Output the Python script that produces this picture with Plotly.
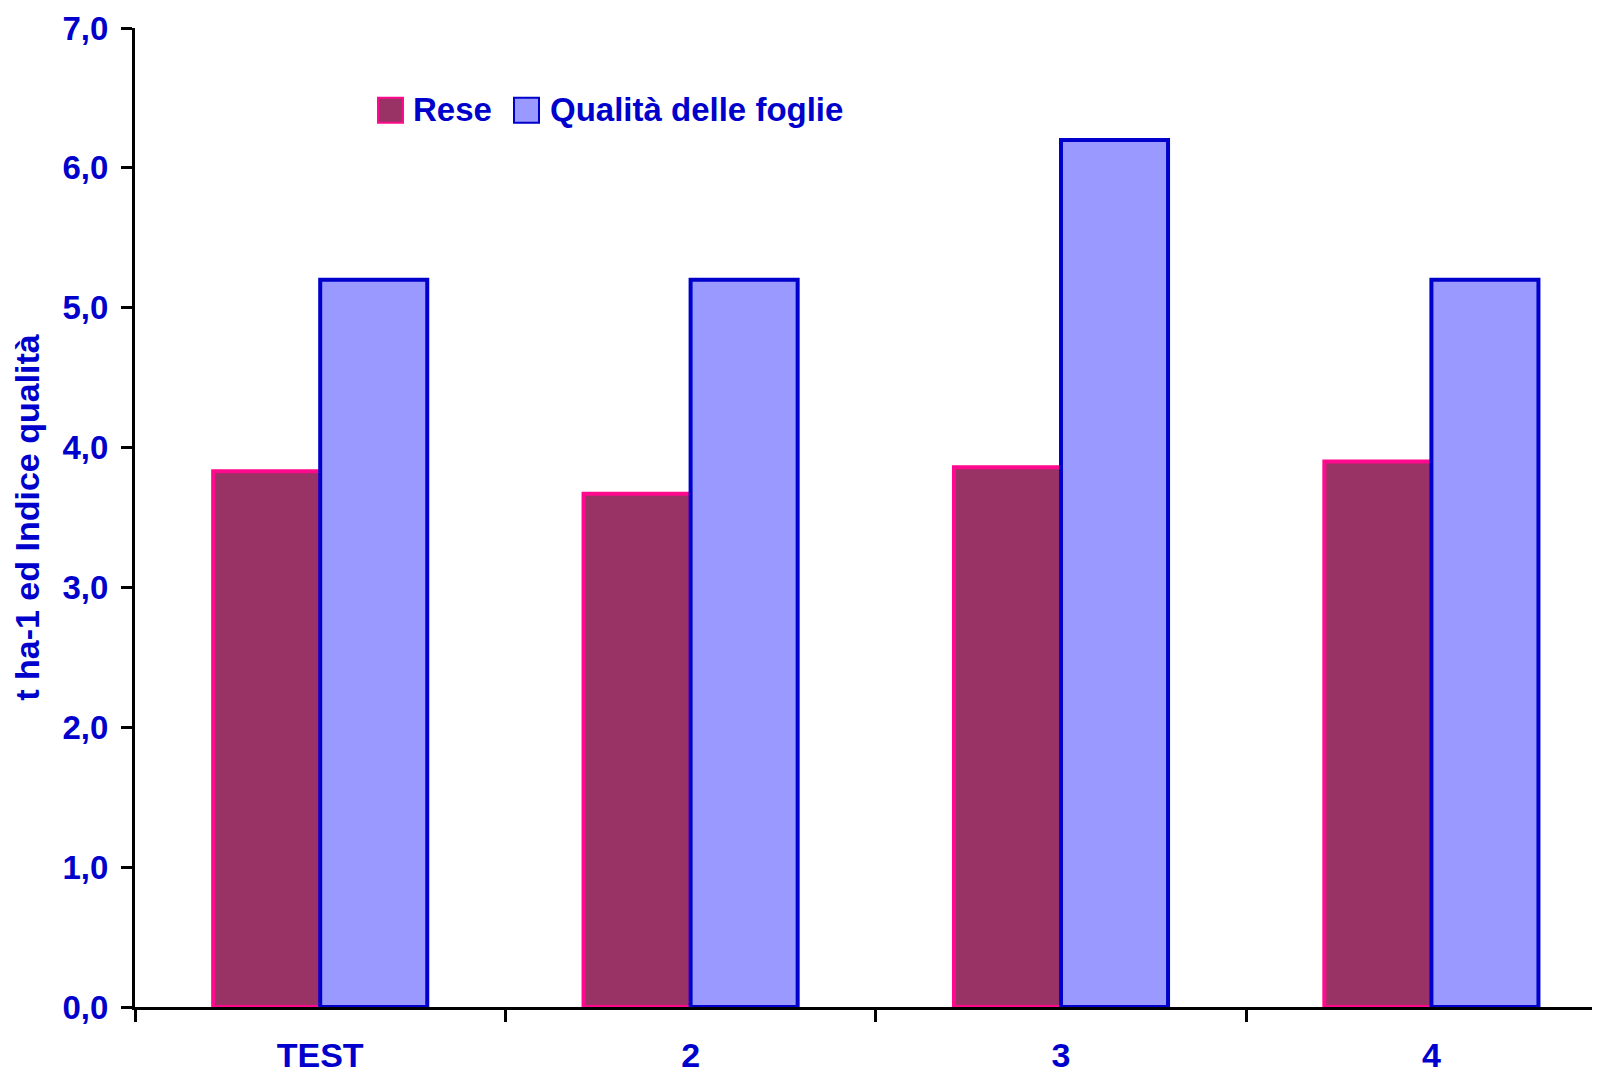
import plotly.graph_objects as go

categories = ["TEST", "2", "3", "4"]
rese = [3.83, 3.67, 3.86, 3.90]
qualita = [5.2, 5.2, 6.2, 5.2]
y_ticks = [0, 1, 2, 3, 4, 5, 6, 7]
series_names = ["Rese", "Qualità delle foglie"]

# page body has an 8px default margin -> figure is 8px smaller than the viewport
W, H = 1592, 1066
L, R, T, B = 127, 0, 20, 64
PW, PH = W - L - R, H - T - B
BLUE = "#0000CC"
FAM = "Liberation Sans, Arial, sans-serif"
FONT = dict(family=FAM, color=BLUE, size=33, weight="bold")

fills = ["#993366", "#9999FF"]
lines = ["#FF0A8C", "#0000CC"]

fig = go.Figure()
for name, vals, fc, lc in zip(series_names, [rese, qualita], fills, lines):
    fig.add_trace(go.Bar(name=name, x=categories, y=vals, showlegend=False,
                         marker=dict(color=fc, line=dict(color=lc, width=4))))

cat_w = 370.4
xmax = -0.5 + PW / cat_w


def px(x):
    return (x - L) / PW


def py(y):
    return (T + PH - y) / PH


# manual legend (larger swatches than plotly's native legend)
legend_items = [(370, 403), (506, 540)]
shapes = []
annotations = []
for (sx, tx), name, fc, lc in zip(legend_items, series_names, fills, lines):
    shapes.append(dict(type="rect", xref="paper", yref="paper",
                       x0=px(sx), x1=px(sx + 25), y0=py(115), y1=py(90),
                       fillcolor=fc, line=dict(color=lc, width=2)))
    annotations.append(dict(text=name, xref="paper", yref="paper", x=px(tx), y=py(102),
                            xanchor="left", yanchor="middle", showarrow=False,
                            font=dict(family=FAM, color=BLUE, size=33, weight="bold")))

fig.update_layout(
    width=W, height=H,
    margin=dict(l=L, r=R, t=T, b=B, pad=0),
    paper_bgcolor="white", plot_bgcolor="white",
    barmode="group", bargap=0.422, bargroupgap=0,
    separators=",.",
    font=FONT,
    shapes=shapes, annotations=annotations,
    xaxis=dict(range=[-0.5, xmax], showline=True, linecolor="black", linewidth=3,
               ticks="outside", tickson="boundaries", ticklen=12, tickwidth=3, tickcolor="black",
               showgrid=False, zeroline=False, tickfont=dict(size=34), ticklabelstandoff=16),
    yaxis=dict(range=[0, 7], tickvals=y_ticks, tickformat=".1f", showline=True,
               linecolor="black", linewidth=3, ticks="outside", ticklen=11, tickwidth=3,
               tickcolor="black", showgrid=False, zeroline=False, tickfont=dict(size=33),
               ticklabelstandoff=6,
               title=dict(text="t ha-1 ed Indice qualità", font=dict(size=34), standoff=14)),
)

fig.write_html("out.html")
